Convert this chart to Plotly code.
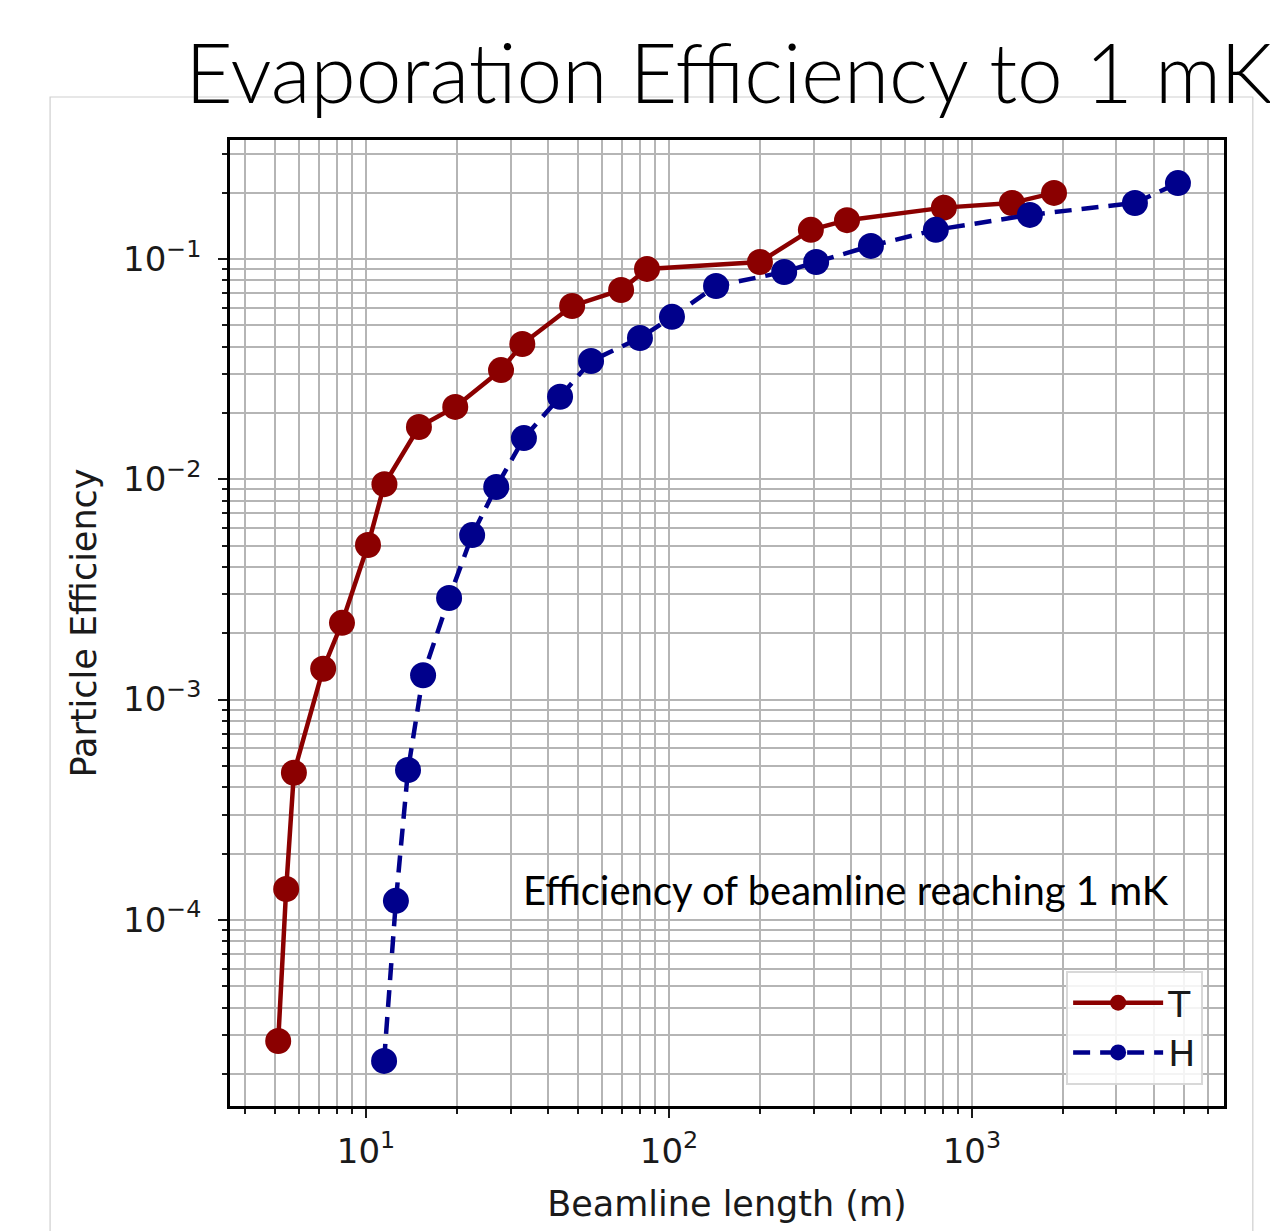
import plotly.graph_objects as go

# Data
t_length = [5.13, 5.45, 5.78, 7.22, 8.33, 10.15, 11.5, 14.95, 19.7, 27.9,
            32.8, 47.9, 69.5, 84.6, 199.6, 294, 387, 808, 1355, 1866]
t_eff = [2.82e-5, 1.38e-4, 4.65e-4, 1.38e-3, 2.23e-3, 5.03e-3, 9.5e-3, 0.01726, 0.0213, 0.0313,
         0.0411, 0.0612, 0.0723, 0.0901, 0.0969, 0.1356, 0.150, 0.171, 0.1796, 0.1995]

h_length = [11.47, 12.55, 13.76, 15.43, 18.8, 22.4, 26.9, 33.2, 43.7, 55.3,
            80.2, 102.3, 143, 240, 306, 464, 760, 1553, 3451, 4786]
h_eff = [2.29e-5, 1.22e-4, 4.79e-4, 1.29e-3, 2.89e-3, 5.58e-3, 9.22e-3, 0.01538, 0.0237, 0.0344,
         0.0438, 0.0546, 0.0754, 0.0873, 0.0969, 0.1146, 0.1356, 0.1585, 0.1796, 0.221]

series_names = ["T", "H"]
title_text = "Evaporation Efficiency to 1 mK"
annotation_text = "Efficiency of beamline reaching 1 mK"
x_title = "Beamline length (m)"
y_title = "Particle Efficiency"

x_tick_exponents = [1, 2, 3]
y_tick_exponents = [-4, -3, -2, -1]
x_minor_decades = [0, 1, 2, 3]
y_minor_decades = [-5, -4, -3, -2, -1]
minor_mantissas = [2, 3, 4, 5, 6, 7, 8, 9]

def sup_label(e):
    return "10<sup>%s</sup>" % (str(e).replace("-", "\u2212"))

x_tickvals = [10.0 ** e for e in x_tick_exponents]
x_ticktext = [sup_label(e) for e in x_tick_exponents]
y_tickvals = [10.0 ** e for e in y_tick_exponents]
y_ticktext = [sup_label(e) for e in y_tick_exponents]
x_minor_vals = [m * 10.0 ** d for d in x_minor_decades for m in minor_mantissas]
y_minor_vals = [m * 10.0 ** d for d in y_minor_decades for m in minor_mantissas]

RED = "#8b0000"
BLUE = "#00008b"
GRID = "#b5b5b5"
TXT = "#1a1a1a"
TICKFONT = dict(family="DejaVu Sans", size=34, color=TXT)
TITLEFONT = dict(family="DejaVu Sans", size=35, color=TXT)

fig = go.Figure()
fig.add_trace(go.Scatter(
    x=t_length, y=t_eff, name=series_names[0], mode="lines+markers",
    line=dict(color=RED, width=4.5),
    marker=dict(color=RED, size=26),
))
fig.add_trace(go.Scatter(
    x=h_length, y=h_eff, name=series_names[1], mode="lines+markers",
    line=dict(color=BLUE, width=4.5, dash="17px,10px"),
    marker=dict(color=BLUE, size=26),
))

def axis_common(minor_vals):
    return dict(
        type="log",
        tickmode="array",
        showline=True, linecolor="black", linewidth=2.5, mirror=True,
        ticks="outside", ticklen=9, tickwidth=2, tickcolor=TXT,
        showgrid=True, gridcolor=GRID, gridwidth=2,
        zeroline=False,
        tickfont=TICKFONT,
        minor=dict(tickmode="array", tickvals=minor_vals, showgrid=True,
                   gridcolor=GRID, gridwidth=2,
                   ticks="outside", ticklen=5, tickwidth=1.5, tickcolor=TXT),
    )

fig.update_xaxes(**axis_common(x_minor_vals), tickvals=x_tickvals, ticktext=x_ticktext,
                 range=[0.551, 3.832], ticklabelstandoff=4,
                 title=dict(text=x_title, font=TITLEFONT, standoff=22))
fig.update_yaxes(**axis_common(y_minor_vals), tickvals=y_tickvals, ticktext=y_ticktext,
                 range=[-4.845, -0.460], ticklabelstandoff=10,
                 title=dict(text=y_title, font=TITLEFONT, standoff=16))

fig.add_annotation(
    text=annotation_text, xref="paper", yref="paper",
    x=0.2928, y=0.2236, xanchor="left", yanchor="middle", showarrow=False,
    font=dict(family="Lato", size=40, color="black"),
)

# outer light frame of the original image
fig.add_shape(type="rect", xref="paper", yref="paper",
              x0=-0.181, x1=1.029, y0=-0.16, y1=1.0445,
              line=dict(color="#cfcfcf", width=1.2), fillcolor="rgba(0,0,0,0)", layer="below")

fig.update_layout(
    width=1278, height=1231,
    margin=dict(l=222, r=62, t=132, b=133),
    paper_bgcolor="white", plot_bgcolor="white",
    title=dict(text=title_text, xref="container", yref="container",
               x=0.564, y=0.923, xanchor="center", yanchor="bottom",
               font=dict(family="Lato", weight=300, size=82, color="black")),
    legend=dict(x=0.979, y=0.022, xanchor="right", yanchor="bottom",
                bgcolor="rgba(255,255,255,0.85)", bordercolor="#d8d8d8", borderwidth=2,
                font=dict(family="DejaVu Sans", size=36, color=TXT),
                itemwidth=90),
    showlegend=True,
)

fig.write_html("out.html")
